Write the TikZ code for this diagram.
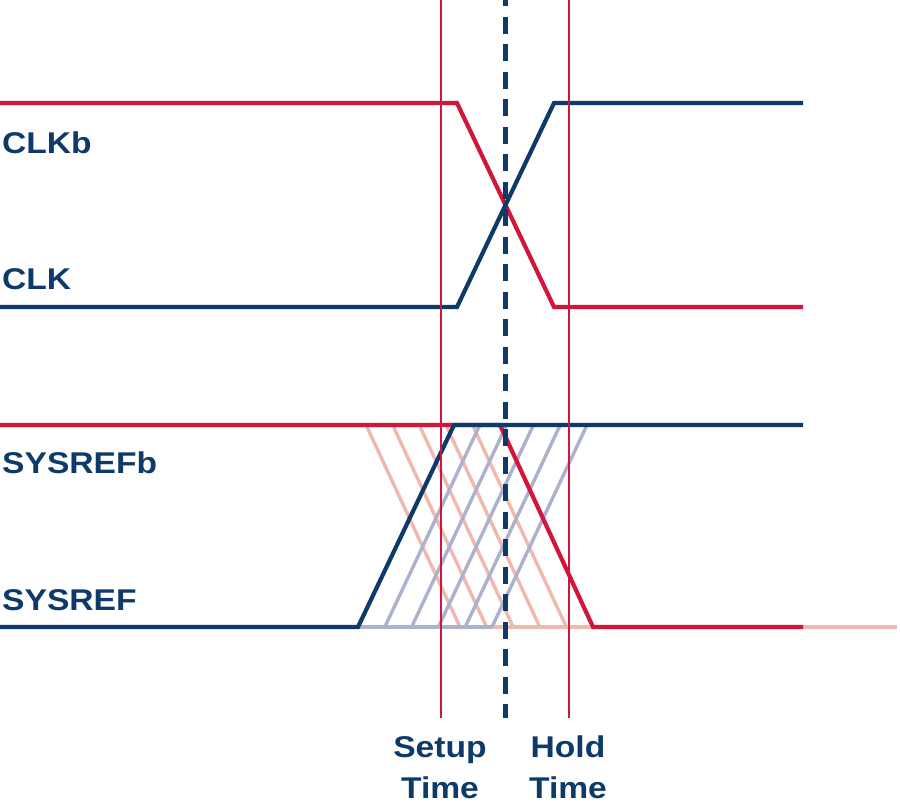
\documentclass[tikz,border=0pt]{standalone}
\usepackage{fontspec}
\setmainfont{Liberation Sans}
\definecolor{navy}{RGB}{14,58,105}
\definecolor{sigred}{RGB}{208,22,58}
\definecolor{salmon}{RGB}{240,185,175}
\definecolor{greyblue}{RGB}{172,178,205}
\tikzset{
  sig/.style={line width=4.2pt, line join=miter},
  faint/.style={line width=3.4pt},
  marker/.style={sigred, line width=2.9pt},
  lbl/.style={inner sep=0pt, text=navy, font=\fontsize{30}{36}\selectfont\bfseries},
}
\newcommand{\wide}[1]{\scalebox{1.12}[1]{#1}}
\begin{document}
\begin{tikzpicture}[x=1pt,y=-1pt]
\useasboundingbox (0,0) rectangle (900,807);
% faint SYSREF alternatives
\foreach \k in {0,...,4} {
  \draw[faint, salmon] ({367+26.6*\k},427) -- ({460+26.6*\k},627);
}
\draw[faint, salmon] (460,627) -- (593,627);
\draw[faint, salmon] (803,627) -- (897,627);
\foreach \k in {1,...,5} {
  \draw[faint, greyblue] ({358+26.8*\k},627) -- ({453+26.8*\k},425);
}
\draw[faint, greyblue] (358,627) -- (492,627);
% CLK signals
\draw[sig, sigred] (0,103) -- (457,103) -- (554,307) -- (803,307);
\draw[sig, navy] (0,307) -- (457,307) -- (554,103) -- (803,103);
% SYSREF signals
\draw[sig, sigred] (0,425) -- (500,425) -- (593,627) -- (803,627);
\draw[sig, navy] (0,627) -- (358,627) -- (454,425) -- (803,425);
% timing markers
\coordinate (su0) at (441,0);
\coordinate (su1) at (441,718);
\coordinate (ho0) at (569,0);
\coordinate (ho1) at (569,718);
\coordinate (ed0) at (505,0);
\coordinate (ed1) at (505,718);
\draw[marker] (su0) -- (su1);
\draw[marker] (ho0) -- (ho1);
\draw[navy, line width=5pt, dash pattern=on 17pt off 10.5pt, dash phase=11pt] (ed0) -- (ed1);
% labels
\node[lbl, anchor=base west] (clkb) at (2,153) {\wide{CLKb}};
\node[lbl, anchor=base west] (clk) at (2,289) {\wide{CLK}};
\node[lbl, anchor=base west] (sysrefb) at (2,473) {\wide{SYSREFb}};
\node[lbl, anchor=base west] (sysref) at (2,610) {\wide{SYSREF}};
\node[lbl, anchor=base] (setup) at (440,757) {\wide{Setup}};
\node[lbl, anchor=base] (setupt) at (440,798) {\wide{Time}};
\node[lbl, anchor=base] (hold) at (568,757) {\wide{Hold}};
\node[lbl, anchor=base] (holdt) at (568,798) {\wide{Time}};
\end{tikzpicture}
\end{document}
